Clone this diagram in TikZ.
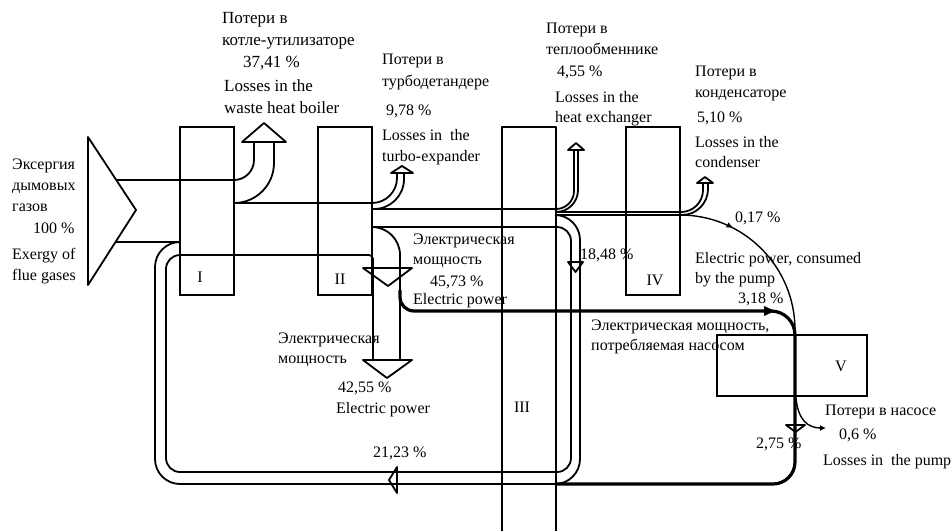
\documentclass[tikz,border=0pt]{standalone}
\usepackage{fontspec}
\setmainfont{Liberation Serif}
\usetikzlibrary{decorations.markings,arrows.meta}
\begin{document}
\begin{tikzpicture}[x=1pt,y=-1pt,
  ln/.style={line width=1.8pt, line join=round},
  thn/.style={line width=1.4pt},
  thk/.style={line width=3.2pt},
  txt/.style={anchor=base west, inner sep=0pt, font=\fontsize{16}{19}\selectfont},
  bigtxt/.style={txt, font=\fontsize{17}{20}\selectfont},
  lbl/.style={inner sep=0pt, font=\fontsize{16}{19}\selectfont},
  boxn/.style={draw, line width=1.8pt, inner sep=0pt, outer sep=0pt, anchor=north west},
]
\useasboundingbox (0,0) rectangle (951,531);
\fill[white] (0,0) rectangle (951,531);

% boxes
\node[boxn, minimum width=54pt, minimum height=168pt] (b1) at (180,127) {};
\node[boxn, minimum width=54pt, minimum height=168pt] (b2) at (318,127) {};
\node[boxn, minimum width=54pt, minimum height=168pt] (b4) at (626,127) {};
\node[boxn, minimum width=150pt, minimum height=61pt] (b5) at (717,335) {};
\draw[ln] (502,531) -- (502,127) -- (556,127) -- (556,531);

\node[lbl] (l1) at (200,277) {I};
\node[lbl] (l2) at (340,279) {II};
\node[lbl] (l3) at (522,407) {III};
\node[lbl] (l4) at (655,280) {IV};
\node[lbl] (l5) at (841,366) {V};

% input triangle
\draw[ln] (88,137) -- (136,210) -- (88,285) -- cycle;
\draw[ln] (116,242) -- (180,242);
\draw[ln] (116,180) -- (230,180) [rounded corners=20] -| (254,142);
\draw[ln, rounded corners=40] (234,203) -| (274,142);
\draw[ln] (242,142) -- (286,142) -- (264,123) -- cycle;

% I -> II, turbo loss
\draw[ln] (234,203) -- (350,203) [rounded corners=25] -| (397,173);
\draw[ln, rounded corners=30] (372,209) -| (404,173);
\draw[ln] (391,173) -- (413,173) -- (402,166) -- cycle;

% II -> III, heat exchanger loss
\draw[ln] (372,209) -- (530,209) [rounded corners=18] -| (574,150);
\draw[ln, rounded corners=22] (556,212) -| (578,150);
\draw[ln] (568,150) -- (584,150) -- (576,143) -- cycle;

% III -> IV, condenser loss
\draw[ln] (556,212) -- (660,212) [rounded corners=22] -| (703,183);
\draw[ln] (556,215) -- (660,215) [rounded corners=26] -| (708,183);
\draw[ln] (697,183) -- (713,183) -- (705,177) -- cycle;

% inner loop line
\draw[ln] (373,360) [rounded corners=4] -- (373,255) -- (300,255) [rounded corners=14] -- (166,255) -- (166,472) -- (571,472) -- (571,227) -- (372,227);
% outer loop line
\draw[ln, rounded corners=25] (180,242) -| (155,484) -| (580,215) -- (555,215);
% electric power outer
\draw[ln, rounded corners=28] (372,227) -| (400,360);

% arrowheads
\draw[ln] (363,268) -- (412,268) -- (388,286) -- cycle;
\draw[ln, fill=white] (363,360) -- (412,360) -- (387,378) -- cycle;
\draw[ln] (568,262) -- (583,262) -- (575.5,272) -- cycle;
\draw[ln] (397,467) -- (397,493) -- (389,480) -- cycle;

% electric power to pump and return
\draw[thk] (400,290) [rounded corners=14] |- (600,311) [rounded corners=24] -| (795,420) [rounded corners=22] |- (556,484);
\fill (764,306) -- (775,311) -- (764,316) -- cycle;
\draw[ln] (786,425) -- (805,425) -- (795.5,432) -- cycle;

% 0.17 arc
\draw[thn, rounded corners=115, postaction={decorate}, decoration={markings, mark=at position 0.3 with {\arrow{Latex[length=7pt,width=6pt]}}}] (680,215) -| (795,335);

% pump loss
\draw[thn, -{Latex[length=6pt,width=6pt]}] (796,398) .. controls (798,420) and (808,428) .. (826,428);

% texts
\node[txt] (t1) at (12,169) {Эксергия};
\node[txt] (t2) at (12,190) {дымовых};
\node[txt] (t3) at (12,211) {газов};
\node[txt] (t4) at (33,233) {100 \%};
\node[txt] (t5) at (12,259) {Exergy of};
\node[txt] (t6) at (12,280) {flue gases};

\node[bigtxt] (t7) at (222,23) {Потери в};
\node[bigtxt] (t8) at (222,45) {котле-утилизаторе};
\node[bigtxt] (t9) at (243,67) {37,41 \%};
\node[bigtxt] (t10) at (224,91) {Losses in the};
\node[bigtxt] (t11) at (224,113) {waste heat boiler};

\node[txt] (t12) at (382,64) {Потери в};
\node[txt] (t13) at (382,86) {турбодетандере};
\node[txt] (t14) at (386,115) {9,78 \%};
\node[txt] (t15) at (382,140) {Losses in~ the};
\node[txt] (t16) at (382,161) {turbo-expander};

\node[txt] (t17) at (546,33) {Потери в};
\node[txt] (t18) at (546,54) {теплообменнике};
\node[txt] (t19) at (557,76) {4,55 \%};
\node[txt] (t20) at (555,102) {Losses in the};
\node[txt] (t21) at (555,122) {heat exchanger};

\node[txt] (t22) at (695,76) {Потери в};
\node[txt] (t23) at (695,97) {конденсаторе};
\node[txt] (t24) at (697,122) {5,10 \%};
\node[txt] (t25) at (695,147) {Losses in the};
\node[txt] (t26) at (695,167) {condenser};

\node[txt] (t27) at (735,222) {0,17 \%};
\node[txt] (t28) at (695,263) {Electric power, consumed};
\node[txt] (t29) at (695,283) {by the pump};
\node[txt] (t30) at (738,303) {3,18 \%};
\node[txt] (t31) at (591,330) {Электрическая мощность,};
\node[txt] (t32) at (591,350) {потребляемая насосом};

\node[txt] (t33) at (825,415) {Потери в насосе};
\node[txt] (t34) at (839,439) {0,6 \%};
\node[txt] (t35) at (823,465) {Losses in~ the pump};
\node[txt] (t36) at (756,448) {2,75 \%};
\node[txt] (t37) at (580,259) {18,48 \%};

\node[txt] (t38) at (413,244) {Электрическая};
\node[txt] (t39) at (413,264) {мощность};
\node[txt] (t40) at (430,286) {45,73 \%};
\node[txt] (t41) at (413,304) {Electric power};

\node[txt] (t42) at (278,343) {Электрическая};
\node[txt] (t43) at (278,363) {мощность};
\node[txt] (t44) at (338,392) {42,55 \%};
\node[txt] (t45) at (336,413) {Electric power};
\node[txt] (t46) at (373,457) {21,23 \%};
\end{tikzpicture}
\end{document}
